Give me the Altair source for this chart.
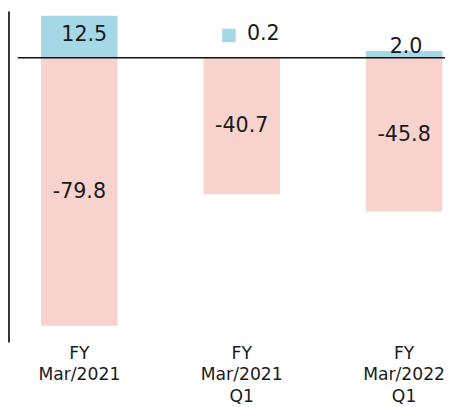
import altair as alt
import pandas as pd

categories = ["FY\nMar/2021", "FY\nMar/2021\nQ1", "FY\nMar/2022\nQ1"]
positive = [12.5, 0.2, 2.0]
negative = [-79.8, -40.7, -45.8]

rows = []
for c, p, n in zip(categories, positive, negative):
    rows.append({"category": c, "series": "pos", "value": p})
    rows.append({"category": c, "series": "neg", "value": n})
df = pd.DataFrame(rows)

BLUE = "#a5d8e6"
PINK = "#f8d2cd"
FONT = "DejaVu Sans"
TXT = "#1a1a1a"

xenc = alt.X(
    "category:N",
    sort=categories,
    scale=alt.Scale(range=[0, 476], paddingInner=0.529, paddingOuter=0.204),
    axis=alt.Axis(
        title=None, domain=False, ticks=False, labelAngle=0,
        labelExpr="split(datum.label, '\\n')", labelFont=FONT, labelFontSize=17.5,
        labelColor=TXT, labelLineHeight=22, labelPadding=12, labelBaseline="top",
    ),
)
yscale = alt.Scale(domain=[-81.9, 13.74], nice=False, zero=False)

base = alt.Chart(df).transform_calculate(
    label="(datum.value < 0 ? '-' : '') + format(abs(datum.value), '.1f')"
)

bars = base.mark_bar().encode(
    x=xenc,
    y=alt.Y("value:Q", stack=None, scale=yscale, axis=None),
    color=alt.Color("series:N", scale=alt.Scale(domain=["pos", "neg"], range=[BLUE, PINK]), legend=None),
)

left_line = alt.Chart(pd.DataFrame({"z": [0]})).mark_rule(color="#333333", strokeWidth=2).encode(
    x=alt.value(1), y=alt.value(0), y2=alt.value(337)
)

zero_rule = alt.Chart(pd.DataFrame({"z": [0]})).mark_rule(color="#111111", strokeWidth=1.5).encode(
    y=alt.Y("z:Q", scale=yscale), x=alt.value(10), x2=alt.value(445)
)

txt_props = dict(font=FONT, fontSize=21, color=TXT, baseline="middle", align="center")

neg_labels = base.transform_filter("datum.series == 'neg'").transform_calculate(
    mid="datum.value / 2"
).mark_text(**txt_props).encode(
    x=alt.X("category:N", sort=categories),
    y=alt.Y("mid:Q", scale=yscale),
    text="label:N",
)

big_pos = base.transform_filter("datum.series == 'pos' && datum.value > 5").transform_calculate(
    mid="datum.value / 2"
).mark_text(dx=5, dy=-2, **txt_props).encode(
    x=alt.X("category:N", sort=categories),
    y=alt.Y("mid:Q", scale=yscale),
    text="label:N",
)

mid_pos = base.transform_filter("datum.series == 'pos' && datum.value > 1 && datum.value <= 5").mark_text(
    dx=2, dy=-4, **txt_props
).encode(
    x=alt.X("category:N", sort=categories),
    y=alt.Y("value:Q", scale=yscale),
    text="label:N",
)

small_pos = base.transform_filter("datum.series == 'pos' && datum.value <= 1").mark_text(
    dx=22, dy=-23, **txt_props
).encode(
    x=alt.X("category:N", sort=categories),
    y=alt.Y("value:Q", scale=yscale),
    text="label:N",
)

small_sq = base.transform_filter("datum.series == 'pos' && datum.value <= 1").mark_square(
    size=190, color=BLUE, opacity=1, xOffset=-13, yOffset=-22
).encode(
    x=alt.X("category:N", sort=categories),
    y=alt.Y("value:Q", scale=yscale),
)

chart = alt.layer(bars, left_line, zero_rule, neg_labels, big_pos, mid_pos, small_pos, small_sq).properties(
    width=445, height=327,
    autosize=alt.AutoSizeParams(type="none"),
    padding={"left": 0, "top": 0, "right": 0, "bottom": 72},
).configure_view(stroke=None)

chart.save("out.html", embed_options={"renderer": "svg", "actions": False})
